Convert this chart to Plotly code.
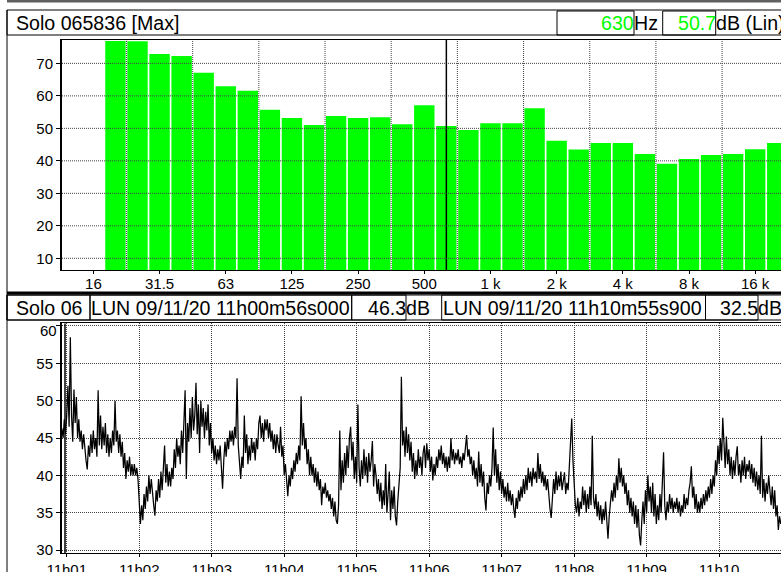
import plotly.graph_objects as go
import pandas as pd

W, H = 781, 572

# ---------------- spectrum (1/3 octave, Max) ----------------
band_labels = ["16", "20", "25", "31.5", "40", "50", "63", "80", "100", "125", "160",
               "200", "250", "315", "400", "500", "630", "800", "1k", "1.25k", "1.6k",
               "2k", "2.5k", "3.15k", "4k", "5k", "6.3k", "8k", "10k", "12.5k", "16k", "20k"]
band_levels = [None, 76.9, 76.8, 72.9, 72.3, 67.1, 63.0, 61.6, 55.7, 53.2, 51.0,
               53.8, 53.2, 53.4, 51.3, 57.1, 50.7, 49.5, 51.6, 51.6, 56.2,
               46.2, 43.5, 45.5, 45.5, 42.1, 39.1, 40.6, 41.8, 42.1, 43.6, 45.5]
octave_tick_labels = ["16", "31.5", "63", "125", "250", "500", "1 k", "2 k", "4 k", "8 k", "16 k"]
spec_y_ticks = [10, 20, 30, 40, 50, 60, 70]
cursor_band = "630"

# ---------------- time history ----------------
start_time = "2020-11-09 11:00:56"
level_db = [
    46.3, 45, 47.5, 45.5, 48, 52, 46.5, 58.5, 48, 44.5, 51.5, 47, 50.5, 45, 47.5, 44.5, 46, 43.5, 45.5, 43.5,
    42, 40.8, 44, 42.5, 45.5, 43, 46, 43.5, 45, 42.5, 51.4, 44, 48, 43.5, 46.5, 44, 47, 43, 45.5, 42.5,
    45, 43, 46, 44, 50, 44.5, 46, 43, 45.5, 42.5, 44.5, 41, 43, 39.5, 42, 40.5, 42.5, 40, 41.5, 40,
    41.5, 40, 41, 39.5, 37, 33.5, 36, 34, 37.5, 35.5, 38.5, 36.5, 40, 37.5, 39.5, 37, 36, 34.6, 38, 36.5,
    39.5, 37, 40.5, 38, 41, 44, 39, 41.5, 38.5, 40.5, 38.5, 41, 39.5, 43.5, 41, 45, 42.5, 44, 41.5, 46,
    43, 48, 51.4, 39.5, 47, 44.5, 49, 45, 50.5, 46, 48, 52.4, 45.5, 49.5, 43, 50, 46.5, 49, 45, 48.5,
    46, 49.5, 44, 47, 43, 45, 42, 44, 41.5, 43.5, 42, 44, 41, 38.2, 42, 44.5, 42.5, 45, 43.5, 46,
    44.5, 46, 44, 46.5, 45, 53, 44, 42, 39.5, 42.5, 41, 48, 43, 45.5, 41.5, 44, 42, 45, 43, 44.5,
    42, 45, 43.5, 47, 48, 45, 47, 44.5, 47.5, 46, 47.5, 45, 47, 44.5, 46, 43.5, 45.5, 43, 45.5, 44,
    43, 46.5, 42.5, 44, 40, 41.5, 38.5, 37.2, 40, 38.5, 41, 39.5, 42, 40.5, 43, 41.5, 44, 42, 50.6, 44,
    47, 43.5, 45, 41.5, 43.5, 40, 42.5, 40, 41.5, 39, 41, 38.5, 40.5, 38, 39.5, 36, 38.5, 37.5, 39, 37,
    38, 36.5, 37.5, 35.5, 37, 34.5, 36.5, 34, 33.5, 36, 46, 38, 42, 39, 43, 40, 44, 41, 45, 46.5,
    42, 44.5, 39.5, 42.5, 39, 49.5, 41, 38.5, 42, 39.5, 43.5, 40, 42.5, 39, 43, 40.5, 42, 44.6, 38.5, 41.5,
    40, 37.5, 39.5, 36.5, 39, 35.5, 38, 36, 41.5, 35, 37.5, 40.5, 34, 38, 35.5, 38.5, 34.5, 33.3, 36.5, 39,
    41, 53.2, 44, 46, 42.5, 46.5, 43, 45.5, 42, 44.5, 40.5, 43, 39.5, 42, 40, 43.5, 41, 42.5, 40, 43,
    44, 41, 44.3, 42, 43.5, 40.5, 42.5, 39.3, 41.5, 40, 42.5, 41, 43.5, 42, 44, 41.5, 43, 41, 42.5, 40.5,
    42.5, 41, 45, 42, 43.5, 41.5, 43, 42, 43.5, 41.5, 42.5, 41, 43, 42, 44, 45.4, 42.5, 43.5, 41.5, 42.5,
    40, 42, 39.5, 41, 38.5, 43.2, 39, 41.5, 38.5, 40.5, 37, 35.3, 39, 37.5, 40, 38.5, 41, 46.4, 40, 43.5,
    39, 41.5, 38, 40.5, 37.5, 39.5, 37, 38.5, 36.5, 39, 36.5, 38, 36, 37.5, 35.5, 34.3, 37, 35.5, 38, 36.5,
    38.5, 37, 39.5, 37.5, 40, 38, 41, 39, 40.5, 38.5, 41, 39.5, 40.5, 39, 43, 39.5, 41.5, 39, 40.5, 38.5,
    40, 38, 39.5, 37, 35.5, 34.3, 37.5, 39.5, 37.5, 40.5, 38, 40, 38.5, 40.5, 38, 39.5, 40.4, 37.5, 39, 38,
    41, 44, 47.6, 42, 38, 36, 35, 37, 34.5, 36.5, 35.5, 38.5, 36, 38, 35, 37.5, 35.5, 38.5, 36, 45.3,
    37, 35.5, 37.5, 34.5, 36.5, 34, 36, 33.5, 35.5, 34, 36.5, 33.5, 31.5, 34.5, 36, 38, 36.5, 39, 37, 40,
    38, 42.3, 39, 41, 38.5, 40, 37.5, 39, 36, 38, 35, 37, 34.5, 36.5, 33.5, 36, 33, 35.5, 32, 30.6,
    34, 36.5, 33.5, 38, 35, 40, 36.5, 38.5, 35, 39, 34.5, 37.5, 33.5, 36, 34, 37.5, 35, 38.5, 43.1, 36,
    34, 36.5, 35, 37.5, 35.5, 37, 35, 36.5, 35.5, 37, 35, 36.5, 34.5, 36, 35, 37.5, 35.5, 37, 36, 38,
    39, 41.2, 37, 38.5, 35.5, 37.5, 35, 36.5, 35, 37, 35.5, 37.5, 36, 38, 36.5, 38.5, 37, 39.5, 37.5, 40,
    38.5, 42, 40, 44, 41.5, 45, 42, 47.7, 43, 41, 45.2, 41.5, 43.5, 40, 42.5, 39.5, 42, 40, 42.5, 43.9,
    40, 41.5, 39, 42, 40, 42.5, 39.5, 41.5, 40.5, 42, 39.5, 41.5, 39, 41, 38.5, 40.5, 38, 40, 37.5, 45.3,
    37, 39.5, 36.5, 39, 37.5, 40, 38, 36, 38.5, 35.5, 38, 34.5, 36, 32.7, 34.5, 33.5, 34, 33, 33.5, 32.5,
]
minute_labels = ["11h01", "11h02", "11h03", "11h04", "11h05", "11h06", "11h07", "11h08", "11h09", "11h10"]
time_y_ticks = [30, 35, 40, 45, 50, 55, 60]

# header texts
top_title = "Solo 065836 [Max]"
bottom_title = "Solo 06"
cursor1_label = "LUN 09/11/20 11h00m56s000"
cursor2_label = "LUN 09/11/20 11h10m55s900"

# ---------------------------------------------------------------
FONT = "Liberation Sans, Arial, sans-serif"
GREEN = "#00FF00"
GRID = "#444444"


def fx(p):
    return p / W


def fy(p):
    return 1 - p / H


band_pos = list(range(len(band_labels)))
octave_pos = [band_labels.index(l.replace(" ", "")) for l in octave_tick_labels]
octave_edges = [p + 1.5 for p in octave_pos[:-1]]
cursor_pos = band_labels.index(cursor_band)

t0 = pd.Timestamp(start_time)
times = t0 + pd.to_timedelta(list(range(len(level_db))), unit="s")
minute_ticks = [pd.Timestamp("2020-11-09 11:00") + pd.Timedelta(minutes=i + 1) for i in range(len(minute_labels))]

# the top y tick label of the time panel is drawn a little lower (inside the frame)
time_y_text = [str(v) if v != max(time_y_ticks) else "" for v in time_y_ticks]

fig = go.Figure()
fig.add_trace(go.Bar(x=band_pos, y=band_levels, marker=dict(color=GREEN, line=dict(width=0)),
                     xaxis="x", yaxis="y", hovertext=band_labels))
fig.add_trace(go.Scatter(x=times, y=level_db, mode="lines", line=dict(color="black", width=1.25),
                         xaxis="x2", yaxis="y2"))

top_dom = [1 - 270 / H, 1 - 40 / H]
bot_dom = [1 - 553.3 / H, 1 - 323.3 / H]
xdom = [62 / W, 1]

fig.update_layout(
    width=W, height=H, margin=dict(l=0, r=0, t=0, b=0),
    paper_bgcolor="white", plot_bgcolor="white", showlegend=False,
    bargap=0.075,
    font=dict(family=FONT, size=15, color="black"),
    xaxis=dict(domain=xdom, anchor="y", range=[-1.423, 31.17], tickmode="array",
               tickvals=octave_pos, ticktext=octave_tick_labels, ticks="outside", ticklen=3,
               ticklabelstandoff=-3,
               tickcolor="black", showgrid=False, zeroline=False, showline=True, mirror=True,
               linecolor="black", linewidth=1, automargin=False, fixedrange=True),
    yaxis=dict(domain=top_dom, anchor="x", range=[6.4, 77.2], tickmode="array",
               tickvals=spec_y_ticks, ticks="outside", ticklen=4, tickcolor="black",
               showgrid=False, zeroline=False, showline=True, mirror=True,
               linecolor="black", linewidth=2, automargin=False),
    xaxis2=dict(domain=xdom, anchor="y2", type="date",
                range=[t0 + pd.Timedelta(seconds=0.1), t0 + pd.Timedelta(seconds=595.2)],
                tickmode="array", tickvals=minute_ticks, ticktext=minute_labels,
                ticks="outside", ticklen=3, tickcolor="black",
                showgrid=True, gridcolor=GRID, griddash="1px,1px", gridwidth=1,
                zeroline=False, showline=True, mirror=True, linecolor="black", linewidth=1,
                automargin=False),
    yaxis2=dict(domain=bot_dom, anchor="x2", range=[29.56, 60.36], tickmode="array",
                tickvals=time_y_ticks, ticktext=time_y_text, ticks="outside", ticklen=4,
                tickcolor="black",
                showgrid=True, gridcolor=GRID, griddash="1px,1px", gridwidth=1,
                zeroline=False, showline=True, mirror=True, linecolor="black", linewidth=2,
                automargin=False),
)

shapes = []
# grid of spectrum drawn above the bars
for v in spec_y_ticks:
    shapes.append(dict(type="line", xref="x domain", x0=0, x1=1, yref="y", y0=v, y1=v,
                       line=dict(color=GRID, width=1, dash="1px,1px"), layer="above"))
for e in octave_edges:
    shapes.append(dict(type="line", xref="x", x0=e, x1=e, yref="y domain", y0=0, y1=1,
                       line=dict(color=GRID, width=1, dash="1px,1px"), layer="above"))
# cursor in spectrum
shapes.append(dict(type="line", xref="x", x0=cursor_pos, x1=cursor_pos, yref="y domain", y0=0, y1=1,
                   line=dict(color="black", width=1.5), layer="above"))
# cursor in time history (start)
shapes.append(dict(type="line", xref="paper", x0=fx(65), x1=fx(65), yref="paper",
                   y0=fy(553), y1=fy(323.5), line=dict(color="black", width=1.5), layer="above"))


def box(x0, y0, x1, y1, w=1, color="black"):
    shapes.append(dict(type="rect", xref="paper", yref="paper", x0=fx(x0), x1=fx(x1),
                       y0=fy(y1), y1=fy(y0), line=dict(color=color, width=w),
                       fillcolor="rgba(0,0,0,0)", layer="above"))


def hline(x0, x1, y, w=1, color="black"):
    shapes.append(dict(type="line", xref="paper", yref="paper", x0=fx(x0), x1=fx(x1),
                       y0=fy(y), y1=fy(y), line=dict(color=color, width=w), layer="above"))


def vline(x, y0, y1, w=1, color="black"):
    shapes.append(dict(type="line", xref="paper", yref="paper", x0=fx(x), x1=fx(x),
                       y0=fy(y0), y1=fy(y1), line=dict(color=color, width=w), layer="above"))


# top border
hline(7, 781, 1.2, w=2.5, color="#606060")
# header 1
box(7, 10, 800, 35)
box(557, 11, 634, 35)
box(662.7, 11, 715.7, 35)
# outer left border
vline(7, 10, 572)
# separator between panels
hline(7, 781, 293, w=3)
# header 2
box(7, 295, 800, 320)
box(7, 295, 90, 320)
box(90, 295, 351.7, 320)
box(351.7, 295, 406, 320)
box(441.7, 295, 705.5, 320)
box(705.5, 295, 758, 320)

fig.update_layout(shapes=shapes)

HF = 19.6
ann = []


def text(x, y, s, anchor="left", color="black", size=HF):
    ann.append(dict(xref="paper", yref="paper", x=fx(x), y=fy(y), text=s, showarrow=False,
                    xanchor=anchor, yanchor="middle", font=dict(family=FONT, size=size, color=color),
                    borderpad=0))


cur_level = band_levels[cursor_pos]
text(15, 22.5, top_title)
text(635, 23, f"{cursor_band}", anchor="right", color=GREEN)
text(633, 23, "Hz")
text(716.5, 23, f"{cur_level:.1f}", anchor="right", color=GREEN)
text(715, 23, "dB (Lin)")

text(15, 308, bottom_title)
text(90, 308, cursor1_label)
text(406.5, 308, f"{level_db[0]:.1f}", anchor="right")
text(405, 308, "dB")
text(442, 308, cursor2_label)
text(758.5, 308, f"{level_db[-1]:.1f}", anchor="right")
text(757, 308, "dB")

# top y label of the time panel
text(58, 330.5, str(max(time_y_ticks)), anchor="right", size=15)

fig.update_layout(annotations=ann)

fig.write_html("out.html", config={"displayModeBar": False},
               post_script="document.body.style.margin='0';document.body.style.overflow='hidden';")
